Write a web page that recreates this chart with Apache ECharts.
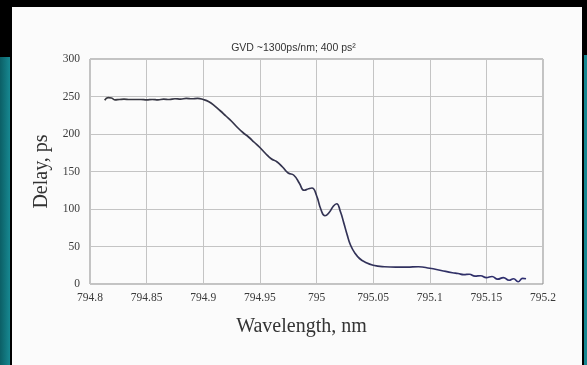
<!DOCTYPE html>
<html>
<head>
<meta charset="utf-8">
<script src="https://cdn.jsdelivr.net/npm/echarts@6/dist/echarts.min.js"></script>
<style>
  html, body { margin: 0; padding: 0; background: #000; }
  .wrap { position: relative; width: 587px; height: 365px; overflow: hidden; background: #000; }
  .teal_left { position: absolute; left: 0; top: 57px; width: 10px; height: 308px;
    background: linear-gradient(to right, #0b5f66, #178891); }
  .teal_right { position: absolute; left: 584px; top: 55px; width: 3px; height: 310px; background: #178891; }
  .panel { position: absolute; left: 12px; top: 7px; width: 570px; height: 358px; background: #fbfbfb; }
  #chart { position: absolute; left: 0; top: 0; width: 587px; height: 365px; }
</style>
</head>
<body>
<div class="wrap">
  <div class="teal_left"></div>
  <div class="teal_right"></div>
  <div class="panel"></div>
  <div id="chart"></div>
</div>
<script>
// wavelength (nm) and delay (ps)
const wavelength = [
  794.813, 794.816, 794.819, 794.822, 794.826, 794.83, 794.835, 794.84, 794.845, 794.85,
  794.855, 794.86, 794.865, 794.87, 794.875, 794.88, 794.885, 794.89, 794.895, 794.9,
  794.905, 794.91, 794.915, 794.92, 794.925, 794.93, 794.935, 794.94, 794.945, 794.95,
  794.955, 794.96, 794.965, 794.97, 794.975, 794.98, 794.985, 794.989, 794.993, 794.996,
  795.0, 795.004, 795.0075, 795.011, 795.015, 795.0178, 795.021, 795.024, 795.027, 795.03,
  795.034, 795.038, 795.043, 795.05, 795.06, 795.07, 795.08, 795.09, 795.1, 795.11,
  795.12, 795.125, 795.13, 795.135, 795.14, 795.145, 795.15, 795.155, 795.16, 795.165,
  795.17, 795.174, 795.178, 795.182, 795.185
];
const delay = [
  245, 248.5, 248, 245.5, 246, 246.5, 246, 246, 246, 245.5,
  246, 245.5, 246.5, 246, 247, 246.5, 247.5, 247, 247.5, 246,
  243, 237.5, 231, 224, 217, 209, 202, 196, 189, 182,
  174, 167, 163, 156, 148, 145, 134, 125, 127, 128,
  118, 99, 91, 95, 104, 107, 97, 82, 66, 52,
  41, 34, 29, 25, 23, 22.5, 22.5, 23, 21, 18,
  15, 14, 12.5, 13, 10.5, 11, 8.5, 10, 6.5, 8.5,
  5, 7, 3, 7.5, 7
];
const xTicks = [794.8, 794.85, 794.9, 794.95, 795, 795.05, 795.1, 795.15, 795.2];
const yTicks = [0, 50, 100, 150, 200, 250, 300];

const points = wavelength.map((w, i) => [w, delay[i]]);

const myChart = echarts.init(document.getElementById("chart"));

const option = {
  backgroundColor: "transparent",
  animation: false,
  title: {
    text: "GVD ~1300ps/nm; 400 ps\u00b2",
    left: "center",
    top: 38,
    textStyle: {
      fontFamily: "Liberation Sans",
      fontSize: 10.5,
      fontWeight: "normal",
      color: "#333",
    },
  },
  grid: {
    left: 90,
    right: 44,
    top: 59,
    bottom: 81,
    show: true,
    borderColor: "#8a8a8a",
    borderWidth: 1,
  },
  xAxis: {
    type: "value",
    min: xTicks[0],
    max: xTicks[xTicks.length - 1],
    interval: 0.05,
    name: "Wavelength, nm",
    nameLocation: "middle",
    nameGap: 33,
    nameTextStyle: {
      fontFamily: "Liberation Serif",
      fontSize: 20,
      color: "#333",
      padding: [0, 30, 0, 0],
    },
    axisLine: { show: false },
    axisTick: { show: false },
    axisLabel: {
      margin: 8,
      fontFamily: "Liberation Serif",
      fontSize: 11.5,
      color: "#3a3a3a",
      formatter: (v) => {
        const t = xTicks.find((k) => Math.abs(k - v) < 1e-6);
        return t === undefined ? "" : String(t);
      },
    },
    splitLine: { show: true, lineStyle: { color: "#c4c4c4", width: 1 } },
  },
  yAxis: {
    type: "value",
    min: yTicks[0],
    max: yTicks[yTicks.length - 1],
    interval: 50,
    name: "Delay, ps",
    nameLocation: "middle",
    nameGap: 36,
    nameTextStyle: {
      fontFamily: "Liberation Serif",
      fontSize: 20,
      color: "#333",
    },
    axisLine: { show: false },
    axisTick: { show: false },
    axisLabel: {
      margin: 10,
      fontFamily: "Liberation Serif",
      fontSize: 11.5,
      color: "#3a3a3a",
    },
    splitLine: { show: true, lineStyle: { color: "#c4c4c4", width: 1 } },
  },
  series: [
    {
      type: "line",
      data: points,
      smooth: 0.5,
      showSymbol: false,
      lineStyle: {
        width: 1.7,
        color: new echarts.graphic.LinearGradient(0, 0, 1, 0, [
          { offset: 0, color: "#38383e" },
          { offset: 0.5, color: "#333352" },
          { offset: 1, color: "#2f2f72" },
        ]),
      },
    },
  ],
};

myChart.setOption(option);
</script>
</body>
</html>
